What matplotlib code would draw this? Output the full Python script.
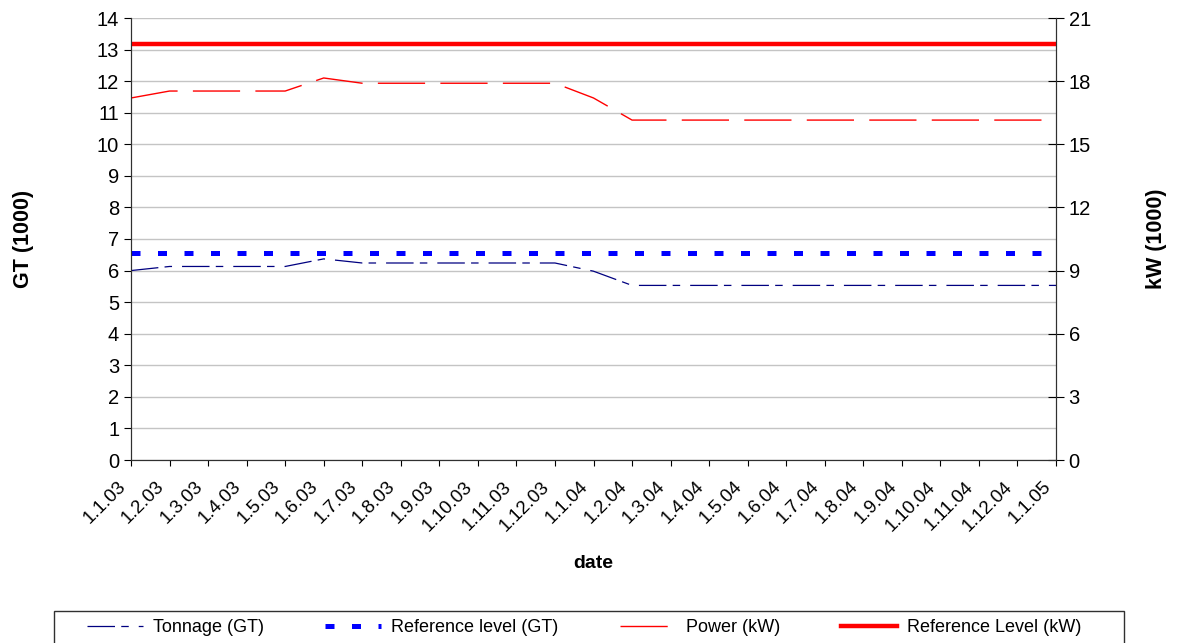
import matplotlib.pyplot as plt
from matplotlib.patches import Rectangle
from matplotlib.transforms import ScaledTranslation
import numpy as np

plt.rcParams["font.family"] = ["Liberation Sans", "DejaVu Sans"]

W, H = 1182, 643

# month labels, 1.1.03 .. 1.1.05
dates = ["1.1.03", "1.2.03", "1.3.03", "1.4.03", "1.5.03", "1.6.03",
         "1.7.03", "1.8.03", "1.9.03", "1.10.03", "1.11.03", "1.12.03",
         "1.1.04", "1.2.04", "1.3.04", "1.4.04", "1.5.04", "1.6.04",
         "1.7.04", "1.8.04", "1.9.04", "1.10.04", "1.11.04", "1.12.04",
         "1.1.05"]

tonnage_gt = [6.0, 6.13, 6.13, 6.13, 6.13, 6.37, 6.24, 6.24, 6.24, 6.24,
              6.24, 6.24, 5.98, 5.53, 5.53, 5.53, 5.53, 5.53, 5.53, 5.53,
              5.53, 5.53, 5.53, 5.53, 5.53]
ref_gt = [6.57] * 25
power_kw = [17.2, 17.53, 17.53, 17.53, 17.53, 18.15, 17.9, 17.9, 17.9, 17.9,
            17.9, 17.9, 17.2, 16.15, 16.15, 16.15, 16.15, 16.15, 16.15, 16.15,
            16.15, 16.15, 16.15, 16.15, 16.15]
ref_kw = [19.75] * 25

x = np.arange(len(dates))

fig = plt.figure(figsize=(W / 100, H / 100), dpi=100)
ax = fig.add_axes([131 / W, 1 - 460 / H, 925 / W, 442 / H])
ax2 = ax.twinx()

l1, = ax.plot(x, tonnage_gt, color="#000080", lw=0.9, dashes=(22, 5, 6, 8),
              label="Tonnage (GT)")
l2, = ax.plot(x, ref_gt, color="#0000FF", lw=3.6, dashes=(1.8, 3.5),
              label="Reference level (GT)")
l3, = ax2.plot(x, power_kw, color="#FF0000", lw=1.0, dashes=(34, 11),
               label="Power (kW)")
l4, = ax2.plot(x, ref_kw, color="#FF0000", lw=3.2, label="Reference Level (kW)")

ax.set_xlim(0, len(dates) - 1)
ax.set_ylim(0, 14)
ax.set_yticks(range(0, 15))
ax2.set_ylim(0, 21)
ax2.set_yticks(range(0, 22, 3))
ax.grid(axis="y", color="#c4c4c4", lw=1)
ax.set_axisbelow(True)

ax.set_xticks(x)
ax.set_xticklabels(dates, rotation=45, ha="right", va="center",
                   rotation_mode="anchor", fontsize=13.5)
ax.tick_params(axis="x", direction="out", length=4.5, pad=0)
shift = ScaledTranslation(-8 / 100, -18 / 100, fig.dpi_scale_trans)
for lab in ax.get_xticklabels():
    lab.set_transform(lab.get_transform() + shift)
ax.tick_params(axis="y", labelsize=14.5, direction="out", length=5)
ax2.tick_params(axis="y", labelsize=14.5, direction="inout", length=12, pad=3)

for a in (ax, ax2):
    a.spines["top"].set_visible(False)
    for s in a.spines.values():
        s.set_color("#303030")

ax.set_xlabel("date", fontsize=14, fontweight="bold")
ax.set_ylabel("GT (1000)", fontsize=15.5, fontweight="bold")
ax2.set_ylabel("kW (1000)", fontsize=15.5, fontweight="bold")
ax.xaxis.set_label_coords(0.5, (460 - 555) / 442)
ax.yaxis.set_label_coords((34 - 131) / 925, 0.5)
ax2.yaxis.set_label_coords((1146 - 131) / 925, 0.5)

# legend frame (runs off the bottom edge in the original)
fig.add_artist(Rectangle((54 / W, -0.02), (1124 - 54) / W, (643 - 611) / H + 0.02,
                         transform=fig.transFigure, fill=False,
                         edgecolor="#303030", lw=1))
fig.legend(handles=[l1, l2, l3, l4], loc="center left",
           bbox_to_anchor=(87 / W, 1 - 628 / H), ncol=4, fontsize=13,
           frameon=False, handlelength=3.1, handletextpad=0.55,
           columnspacing=3.4, borderpad=0, borderaxespad=0)

fig.savefig("out.png", dpi=100)
